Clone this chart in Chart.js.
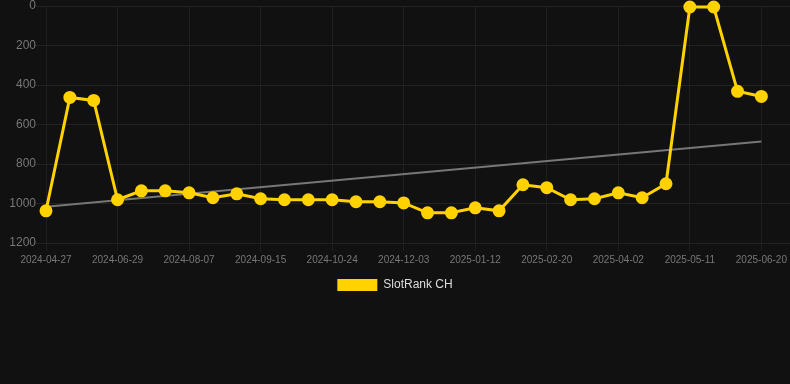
<!DOCTYPE html>
<html>
<head>
<meta charset="utf-8">
<script src="https://cdn.jsdelivr.net/npm/chart.js@4/dist/chart.umd.min.js"></script>
<style>
    html, body { margin: 0; padding: 0; background: #111111; }
    .chart-wrap { position: relative; width: 790px; height: 301px; }
</style>
</head>
<body>
<div class="chart-wrap"><canvas id="rankChart"></canvas></div>
<script>
// Dates of each sample (category positions along the x axis)
const dates = [
    '2024-04-27', '2024-05-18', '2024-06-08', '2024-06-29', '2024-07-12', '2024-07-25',
    '2024-08-07', '2024-08-20', '2024-09-02', '2024-09-15', '2024-09-28', '2024-10-11',
    '2024-10-24', '2024-11-06', '2024-11-20', '2024-12-03', '2024-12-16', '2024-12-30',
    '2025-01-12', '2025-01-25', '2025-02-07', '2025-02-20', '2025-03-06', '2025-03-19',
    '2025-04-02', '2025-04-15', '2025-04-28', '2025-05-11', '2025-05-24', '2025-06-07',
    '2025-06-20'
];

// Rank values for SlotRank CH
const rankValues = [
    1037, 463, 478, 981, 936, 936, 946, 971, 951, 976, 981, 981,
    981, 991, 991, 997, 1047, 1047, 1022, 1037, 905, 920, 981, 976,
    946, 971, 900, 5, 5, 432, 458
];

// Trend line: start and end values only
const trendValues = [1017, 686];

const yTicks = [0, 200, 400, 600, 800, 1000, 1200];

const FONT = 'Liberation Sans, Arial, sans-serif';

document.addEventListener('DOMContentLoaded', function () {
    initializeRankChart();
});

/**
 * Build the SlotRank line chart with its trend line
 */
function initializeRankChart() {
    const canvas = document.getElementById('rankChart');
    if (!canvas || typeof Chart === 'undefined') {
        console.warn('Chart.js not loaded or canvas not found');
        return;
    }

    const rankPoints = rankValues.map((v, i) => ({ x: i, y: v }));
    const trendPoints = [
        { x: 0, y: trendValues[0] },
        { x: dates.length - 1, y: trendValues[1] }
    ];

    new Chart(canvas.getContext('2d'), {
        type: 'line',
        data: {
            datasets: [
                {
                    label: 'SlotRank CH',
                    data: rankPoints,
                    borderColor: '#ffd200',
                    backgroundColor: '#ffd200',
                    borderWidth: 3,
                    pointRadius: 5,
                    pointBackgroundColor: '#ffd200',
                    pointBorderColor: '#ffd200',
                    tension: 0,
                    clip: 10,
                    order: 1
                },
                {
                    label: 'Trend',
                    data: trendPoints,
                    borderColor: '#777777',
                    borderWidth: 2,
                    pointRadius: 0,
                    tension: 0,
                    order: 2
                }
            ]
        },
        options: {
            responsive: true,
            maintainAspectRatio: false,
            animation: false,
            layout: {
                autoPadding: false,
                padding: 0
            },
            plugins: {
                legend: {
                    display: true,
                    position: 'bottom',
                    labels: {
                        color: '#dddddd',
                        boxWidth: 40,
                        boxHeight: 12,
                        font: { family: FONT, size: 12 },
                        generateLabels: function (chart) {
                            return Chart.defaults.plugins.legend.labels.generateLabels(chart)
                                .filter(item => item.text !== 'Trend')
                                .map(item => Object.assign(item, { lineWidth: 0 }));
                        }
                    }
                },
                tooltip: { enabled: false }
            },
            scales: {
                x: {
                    type: 'linear',
                    min: 0,
                    max: 31.2,
                    grid: { color: '#1f1f1f' },
                    border: { display: false },
                    ticks: {
                        stepSize: 3,
                        includeBounds: false,
                        maxRotation: 0,
                        color: '#777777',
                        font: { family: FONT, size: 10 },
                        callback: function (value) {
                            return dates[value] || '';
                        }
                    }
                },
                y: {
                    reverse: true,
                    min: yTicks[0],
                    max: yTicks[yTicks.length - 1],
                    grid: { color: '#222222', tickLength: 10 },
                    border: { display: false },
                    afterBuildTicks: function (axis) {
                        axis.ticks = yTicks.map(v => ({ value: v }));
                    },
                    afterFit: function (scale) {
                        scale.width = 46;
                    },
                    ticks: {
                        padding: 0,
                        color: '#777777',
                        font: { family: FONT, size: 12, lineHeight: 1 },
                        callback: function (value) {
                            return String(value);
                        }
                    }
                }
            }
        }
    });
}
</script>
</body>
</html>
